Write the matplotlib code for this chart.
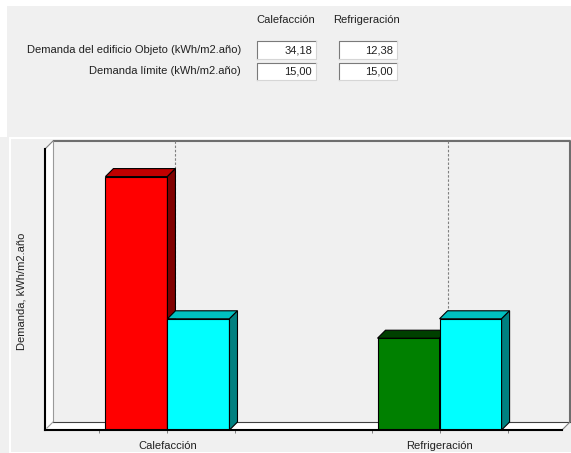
import matplotlib
matplotlib.use("Agg")
import matplotlib.pyplot as plt
from matplotlib.patches import Rectangle, Polygon
import numpy as np

# ---- data -------------------------------------------------------------
categories = ["Calefacción", "Refrigeración"]
demanda_objeto = [34.18, 12.38]
demanda_limite = [15.00, 15.00]
row_labels = ["Demanda del edificio Objeto (kWh/m2.año)", "Demanda límite (kWh/m2.año)"]
y_label = "Demanda, kWh/m2.año"

# (front, top, side) shades for each bar
objeto_colors = [("#FF0000", "#C00000", "#800000"),
                 ("#008000", "#004000", "#004000")]
limite_colors = ("#00FFFF", "#00C0C0", "#008080")

# ---- layout (pixels) ----------------------------------------------------
W, H, DPI = 571, 453, 100
AX_L, AX_R, AX_T, AX_B = 45, 562, 149, 430   # front plane of the 3D box
DEPTH = 8                                   # 3D depth offset
XLIM = (-0.45, 1.45)
YMAX = 37.9
BAR_W = 0.228
FS = 8
PANEL = "#F0F0F0"

plt.rcParams["font.family"] = ["Liberation Sans", "DejaVu Sans"]
fig = plt.figure(figsize=(W / DPI, H / DPI), dpi=DPI, facecolor=PANEL)

# background / form elements in pixel coordinates
bg = fig.add_axes([0, 0, 1, 1], zorder=0)
bg.set_xlim(0, W)
bg.set_ylim(H, 0)
bg.axis("off")

bg.add_patch(Rectangle((0, 0), W, H, fc=PANEL, ec="none", zorder=0))
bg.add_patch(Rectangle((0, 0), W, 6, fc="white", ec="none", zorder=0.5))
bg.add_patch(Rectangle((0, 0), 7, 137, fc="white", ec="none", zorder=0.5))
# raised border of the chart panel
bg.add_patch(Rectangle((9, 137), W - 9, 1.5, fc="white", ec="none", zorder=0.5))
bg.add_patch(Rectangle((9, 137), 1.5, H - 137, fc="white", ec="none", zorder=0.5))
bg.add_patch(Rectangle((9, H - 1.5), W - 9, 1.5, fc="white", ec="none", zorder=0.5))

# header and value boxes
col_x = [(257, 316), (339, 397)]
row_y = [(41, 58.5), (62.5, 80)]
values = [demanda_objeto, demanda_limite]
for j, cat in enumerate(categories):
    cx = (col_x[j][0] + col_x[j][1]) / 2 - 1
    bg.text(cx, 20, cat, ha="center", va="center", fontsize=FS, color="#202020")
for i, lab in enumerate(row_labels):
    y0, y1 = row_y[i]
    bg.text(241, (y0 + y1) / 2, lab, ha="right", va="center", fontsize=FS, color="#202020")
    for j in range(len(categories)):
        x0, x1 = col_x[j]
        bg.add_patch(Rectangle((x0, y0), x1 - x0, y1 - y0, fc="white", ec="none"))
        bg.plot([x0, x0, x1], [y1, y0, y0], color="#7A7A7A", lw=0.8)
        bg.plot([x0, x1, x1], [y1, y1, y0], color="#D6D6D6", lw=0.8)
        txt = f"{values[i][j]:.2f}".replace(".", ",")
        bg.text(x1 - 4, (y0 + y1) / 2 + 0.5, txt, ha="right", va="center",
                fontsize=FS, color="#202020")

# 3D box: back wall, left wall, floor
bL, bR, bT, bB = AX_L + DEPTH, AX_R + DEPTH, AX_T - DEPTH, AX_B - DEPTH
bg.add_patch(Polygon([(AX_L, AX_T), (bL, bT), (bL, bB), (AX_L, AX_B)],
                     closed=True, fc="white", ec="none"))
bg.add_patch(Polygon([(AX_L, AX_B), (AX_R, AX_B), (bR, bB), (bL, bB)],
                     closed=True, fc="white", ec="none"))
bg.plot([bL, bR, bR], [bT, bT, bB], color="#6E6E6E", lw=1.5, solid_capstyle="butt")
bg.plot([bL, bL], [bT, bB], color="#9A9A9A", lw=0.8)
bg.plot([AX_L, bL], [AX_T, bT], color="#808080", lw=0.8)
bg.plot([bL, bR], [bB, bB], color="#404040", lw=0.8)
bg.plot([AX_R, bR], [AX_B, bB], color="#808080", lw=0.8)
bg.plot([AX_L + 2, bL], [AX_B - 2, bB], color="#A0A0A0", lw=0.8)

# ---- data axes (front plane) -------------------------------------------
ax = fig.add_axes([AX_L / W, 1 - AX_B / H, (AX_R - AX_L) / W, (AX_B - AX_T) / H], zorder=1)
ax.patch.set_visible(False)
ax.set_xlim(*XLIM)
ax.set_ylim(0, YMAX)
for s in ("top", "right"):
    ax.spines[s].set_visible(False)
for s in ("left", "bottom"):
    ax.spines[s].set_linewidth(1.5)
    ax.spines[s].set_zorder(6)

px_x = (AX_R - AX_L) / (XLIM[1] - XLIM[0])
px_y = (AX_B - AX_T) / YMAX
dx, dy = DEPTH / px_x, DEPTH / px_y

x = np.arange(len(categories))

# dotted category lines on the back wall
for xi in x:
    ax.plot([xi + dx, xi + dx], [dy, YMAX + dy], color="#808080", lw=0.8,
            ls=(0, (2.2, 1.6)), zorder=1, clip_on=False)


def bar3d(x0, h, front, top, side, z):
    ax.bar(x0, h, width=BAR_W, align="edge", color=front, edgecolor="black",
           linewidth=0.8, zorder=z)
    ax.add_patch(Polygon([(x0, h), (x0 + BAR_W, h), (x0 + BAR_W + dx, h + dy), (x0 + dx, h + dy)],
                         closed=True, fc=top, ec="black", lw=0.8, zorder=z, clip_on=False))
    ax.add_patch(Polygon([(x0 + BAR_W, 0), (x0 + BAR_W + dx, dy), (x0 + BAR_W + dx, h + dy), (x0 + BAR_W, h)],
                         closed=True, fc=side, ec="black", lw=0.8, zorder=z, clip_on=False))


for i in range(len(categories)):
    f, t, s = objeto_colors[i]
    bar3d(x[i] - BAR_W, demanda_objeto[i], f, t, s, 3 + 2 * i)
    f, t, s = limite_colors
    bar3d(x[i], demanda_limite[i], f, t, s, 4 + 2 * i)

ax.set_xticks(x, labels=categories)
ax.set_xticks(np.concatenate([x - 0.25, x + 0.25]), minor=True)
ax.tick_params(axis="x", which="both", length=2.2, width=0.7, color="#808080",
               direction="out", labelsize=FS, labelcolor="#202020", pad=5.5)
ax.tick_params(axis="y", left=False, labelleft=False)

ax.set_ylabel(y_label, fontsize=FS, color="#202020", va="center")
ax.yaxis.set_label_coords((22 - AX_L) / (AX_R - AX_L), (AX_B - 291) / (AX_B - AX_T))

fig.savefig("out.png", dpi=DPI, facecolor=fig.get_facecolor())
